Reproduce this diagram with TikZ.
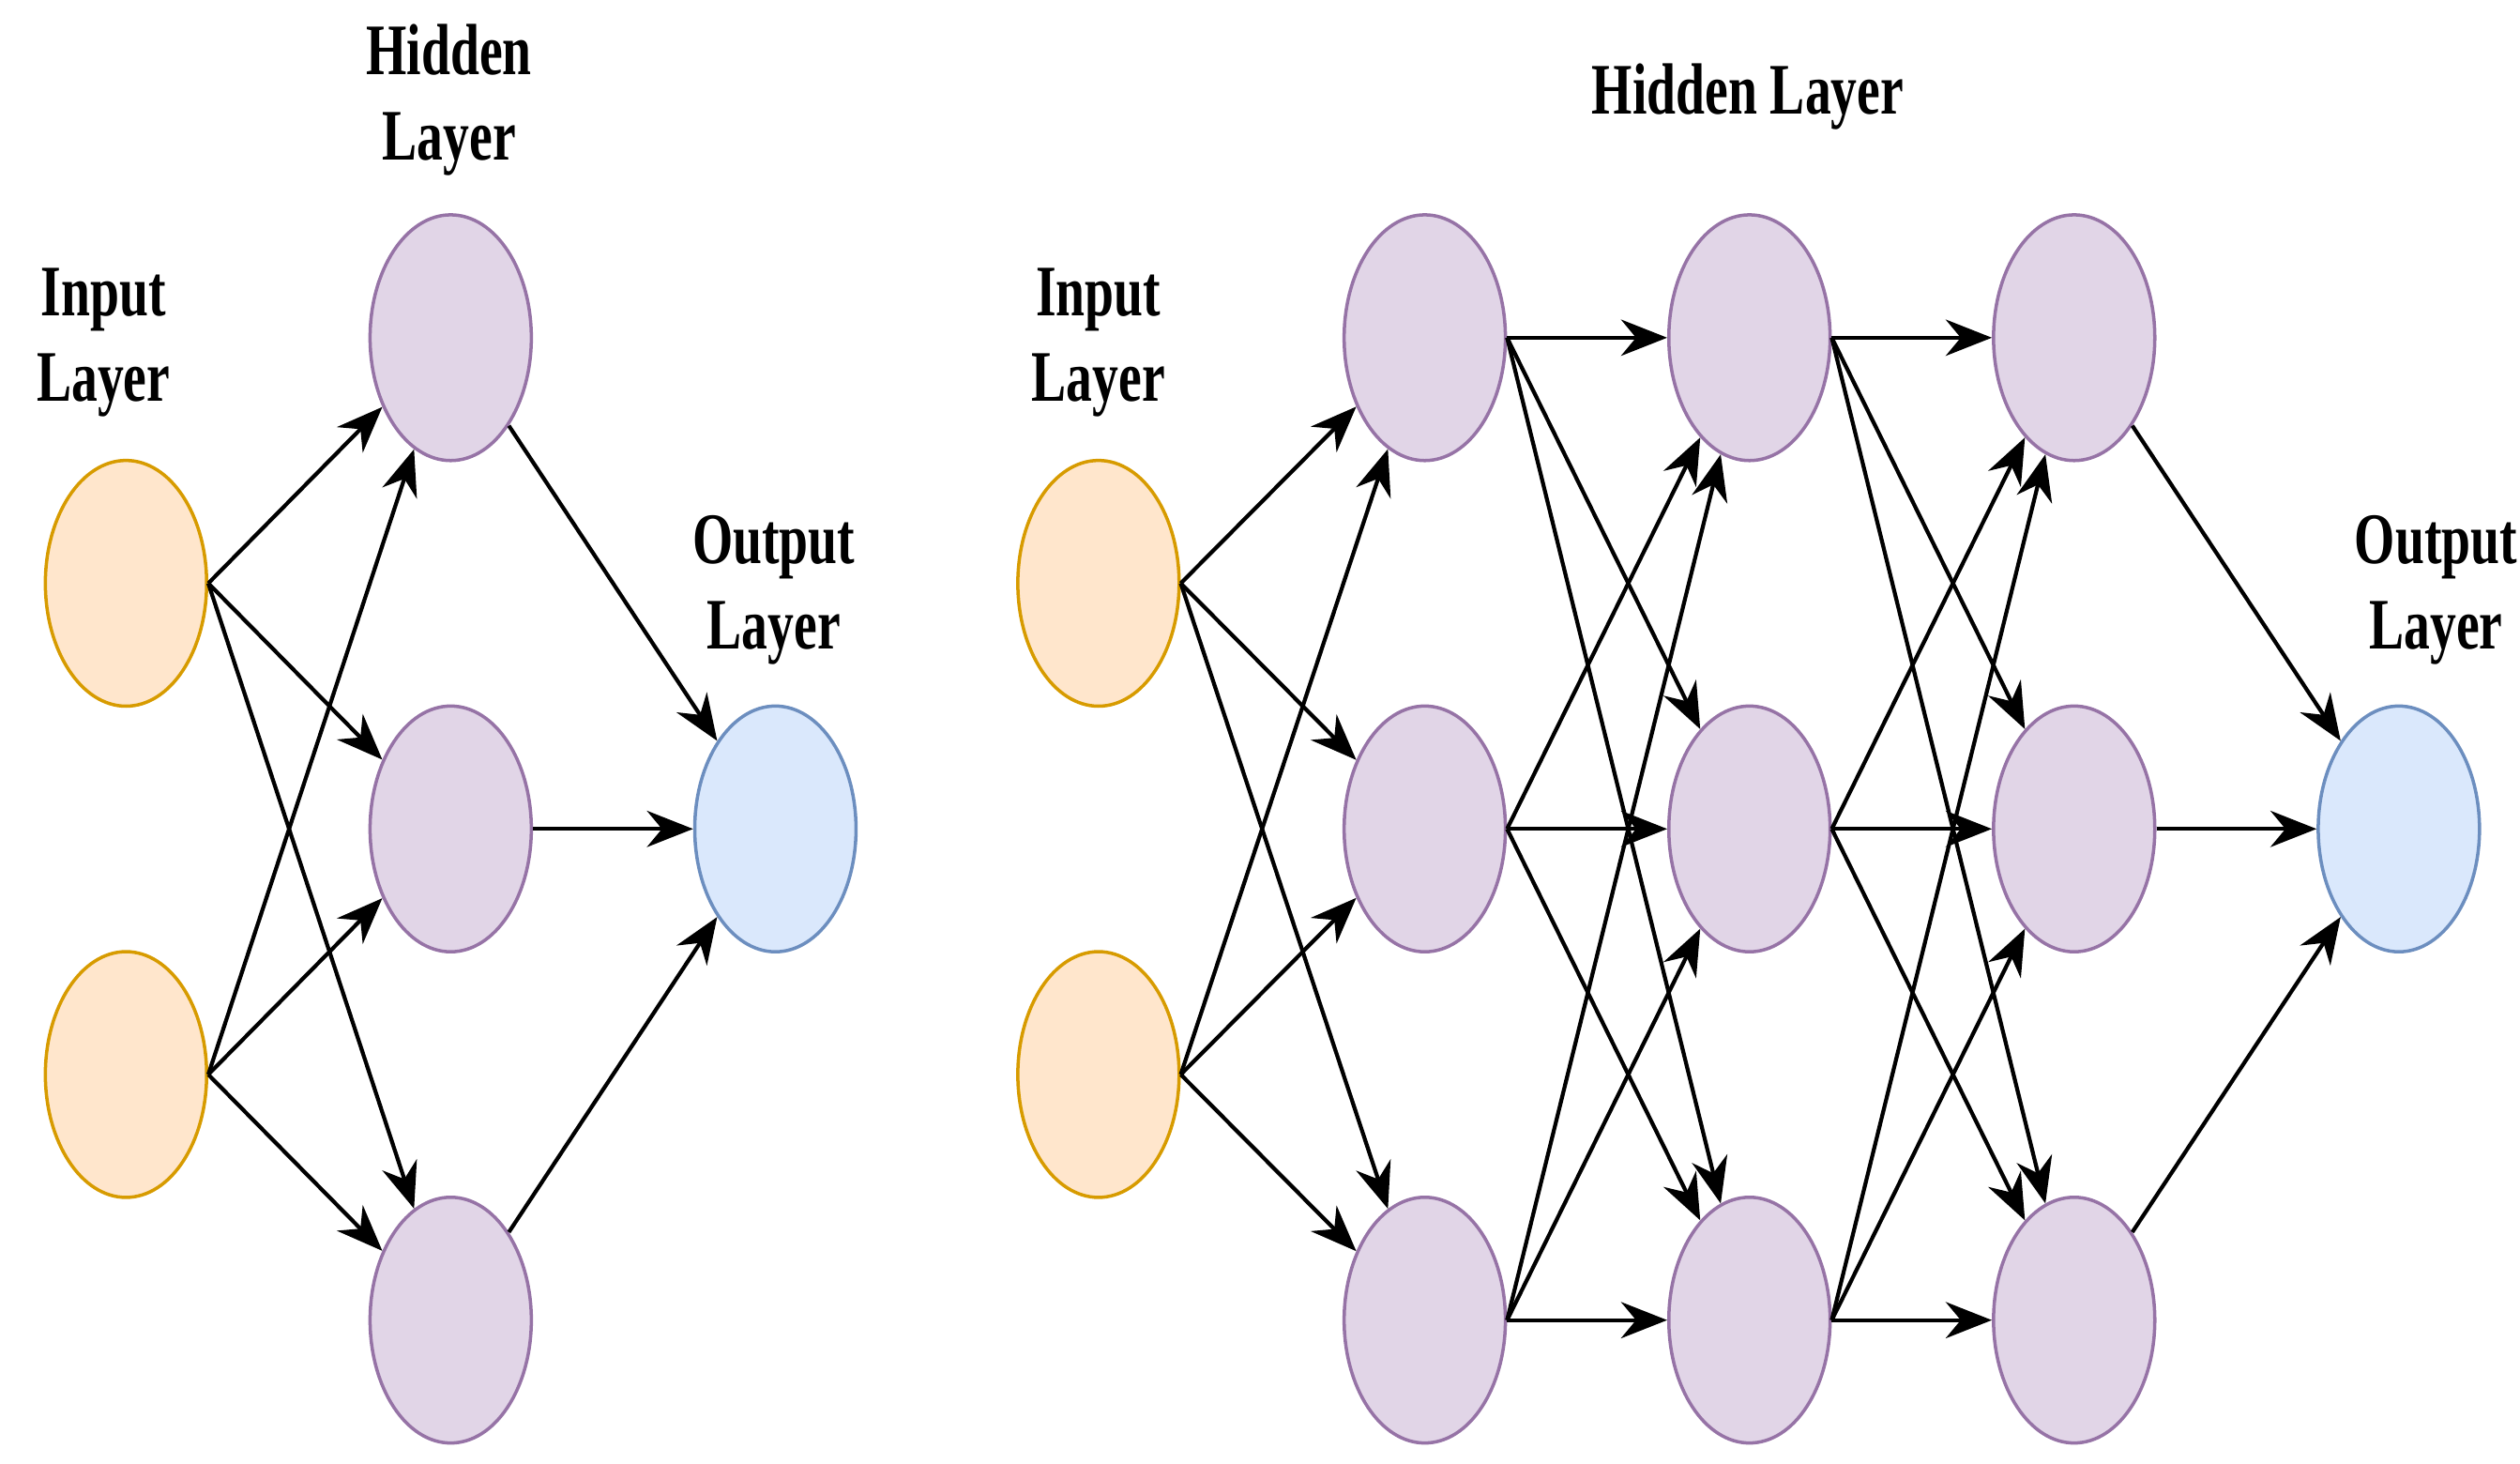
\documentclass[tikz,border=0pt]{standalone}
\usepackage{fontspec}
\setmainfont{Liberation Serif}[FakeStretch=0.72]
\usetikzlibrary{shapes.geometric,arrows.meta}
\definecolor{ofill}{HTML}{FFE6CC}\definecolor{odraw}{HTML}{D79B00}
\definecolor{pfill}{HTML}{E1D5E7}\definecolor{pdraw}{HTML}{9673A6}
\definecolor{bfill}{HTML}{DAE8FC}\definecolor{bdraw}{HTML}{6C8EBF}
\begin{document}
\begin{tikzpicture}[x=0.01722cm,y=-0.01722cm,
  neu/.style={ellipse,minimum width=1.72cm,minimum height=2.62cm,line width=1pt,inner sep=0pt},
  inp/.style={neu,fill=ofill,draw=odraw},
  hid/.style={neu,fill=pfill,draw=pdraw},
  outn/.style={neu,fill=bfill,draw=bdraw},
  lab/.style={font=\bfseries\fontsize{22}{26}\selectfont,align=center},
  ed/.style={line width=1.2pt,-{Stealth[length=14pt,width=11pt]}}]
\useasboundingbox (0,0) rectangle (1560,906);
% left network
\node[inp] (a1) at (78,361) {};
\node[inp] (a2) at (78,665) {};
\foreach \i/\y in {1/209,2/513,3/817} \node[hid] (b\i) at (279,\y) {};
\node[outn] (bo) at (480,513) {};
\node[lab] (la) at (64,212) {Input\\Layer};
\node[lab] (lb) at (278,62) {Hidden\\Layer};
\node[lab] (lc) at (479,365) {Output\\Layer};
\foreach \i in {1,2} \foreach \j in {1,2,3} \draw[ed] (a\i.east) -- (b\j);
\foreach \j in {1,2,3} \draw[ed] (b\j) -- (bo);
% right network
\node[inp] (c1) at (680,361) {};
\node[inp] (c2) at (680,665) {};
\foreach \i/\y in {1/209,2/513,3/817} {
  \node[hid] (d\i) at (882,\y) {};
  \node[hid] (e\i) at (1083,\y) {};
  \node[hid] (f\i) at (1284,\y) {};}
\node[outn] (go) at (1485,513) {};
\node[lab] (lr1) at (680,212) {Input\\Layer};
\node[lab] (lr2) at (1082,60) {Hidden Layer};
\node[lab] (lr3) at (1508,365) {Output\\Layer};
\foreach \i in {1,2} \foreach \j in {1,2,3} \draw[ed] (c\i.east) -- (d\j);
\foreach \i in {1,2,3} \foreach \j in {1,2,3} {
  \draw[ed] (d\i.east) -- (e\j);
  \draw[ed] (e\i.east) -- (f\j);}
\foreach \j in {1,2,3} \draw[ed] (f\j) -- (go);
\end{tikzpicture}
\end{document}
